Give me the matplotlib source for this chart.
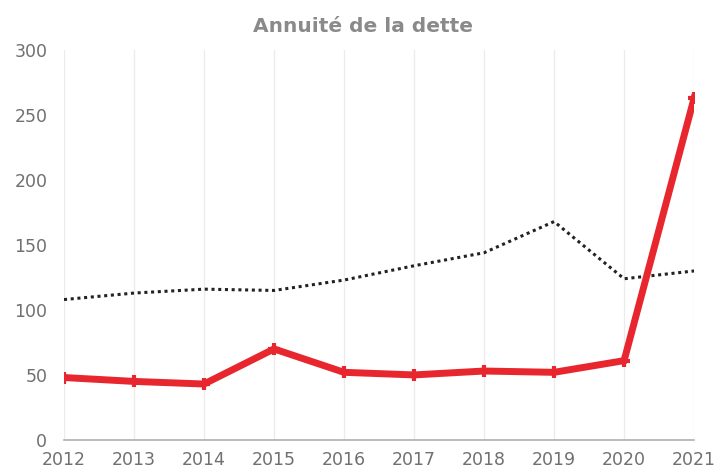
import matplotlib
matplotlib.use("Agg")
import matplotlib.pyplot as plt

years = ["2012", "2013", "2014", "2015", "2016", "2017", "2018", "2019", "2020", "2021"]
annuite = [48, 45, 43, 70, 52, 50, 53, 52, 61, 263]
reference = [108, 113, 116, 115, 123, 134, 144, 168, 124, 130]
yticks = [0, 50, 100, 150, 200, 250, 300]

fig = plt.figure(figsize=(7.16, 4.72), dpi=100)
ax = fig.add_axes([0.0894, 0.068, 0.880, 0.826])
x = list(range(len(years)))

ax.plot(x, reference, color="#222222", linestyle=(0, (1, 1.2)), linewidth=2.2, zorder=2)
ax.plot(x, annuite, color="#e8262e", linewidth=5, marker="+", markersize=9,
        markeredgewidth=3, markeredgecolor="#e8262e", solid_joinstyle="miter", zorder=3)

ax.set_xlim(0, len(years) - 1)
ax.set_ylim(0, 300)
ax.set_yticks(yticks)
ax.set_xticks(x)
ax.set_xticklabels(years)
for s in ["top", "right", "left"]:
    ax.spines[s].set_visible(False)
ax.spines["bottom"].set_color("#b0b0b0")
ax.spines["bottom"].set_linewidth(1.2)
ax.grid(axis="x", color="#ececec", linewidth=1)
ax.tick_params(axis="both", length=0, colors="#707070", labelsize=12.5)
ax.tick_params(axis="x", pad=8)
ax.tick_params(axis="y", pad=12)
ax.set_title("Annuité de la dette", fontsize=14.5, fontweight="bold", color="#8a8a8a",
             pad=13, x=0.475)

fig.savefig("out.png", dpi=100)
